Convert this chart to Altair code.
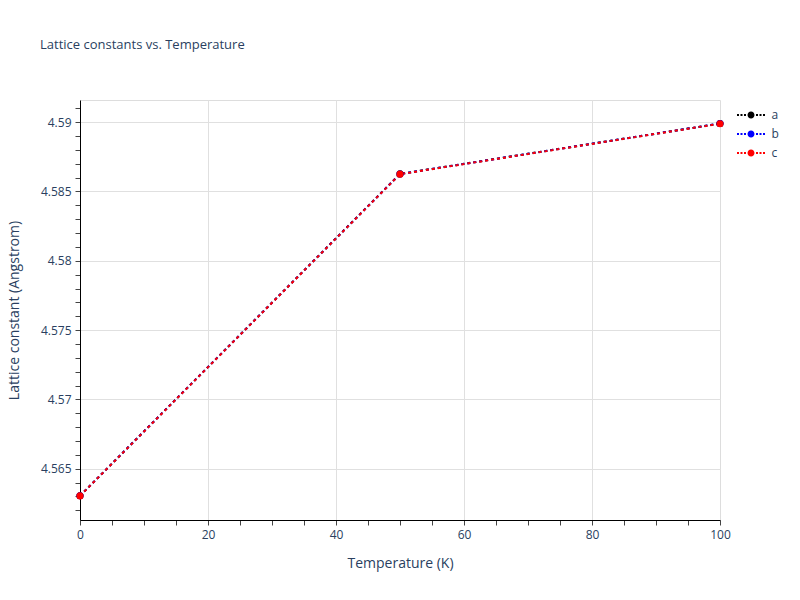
import altair as alt
import pandas as pd

temperature = [0, 50, 100]
lat_a = [4.56305, 4.58627, 4.58990]
lat_b = [4.56305, 4.58626, 4.58990]
lat_c = [4.56304, 4.58625, 4.58989]
series_names = ["a", "b", "c"]
series_colors = ["#000000", "#0000ff", "#ff0000"]

x_ticks = [0, 5, 10, 15, 20, 25, 30, 35, 40, 45, 50, 55, 60, 65, 70, 75, 80, 85, 90, 95, 100]
y_ticks = [4.562, 4.563, 4.564, 4.565, 4.566, 4.567, 4.568, 4.569, 4.570, 4.571,
           4.572, 4.573, 4.574, 4.575, 4.576, 4.577, 4.578, 4.579, 4.580, 4.581,
           4.582, 4.583, 4.584, 4.585, 4.586, 4.587, 4.588, 4.589, 4.590, 4.591]

rows = []
for name, vals in zip(series_names, [lat_a, lat_b, lat_c]):
    for t, v in zip(temperature, vals):
        rows.append({"Temperature": t, "Lattice": v, "series": name})
df = pd.DataFrame(rows)

TXT = "#2a3f5f"
FONT = "Open Sans"

xscale = alt.Scale(domain=[0, 100], nice=False, zero=False)
yscale = alt.Scale(domain=[4.5613, 4.5916], nice=False, zero=False)

x_major = "datum.value % 20 == 0"
y_major = "round(datum.value * 1000) % 5 == 0"

U = 9.5  # px per path unit (symbolSize = (2U)^2)
def sq(cx_px, h_px=1.0):
    cx, h = cx_px / U, h_px / U
    return f"M{cx - h:.3f},{-h:.3f}h{2*h:.3f}v{2*h:.3f}h{-2*h:.3f}Z"
r = 3.5 / U
legend_path = " ".join(sq(c) for c in [-13, -9.5, -6, 6, 9.5, 13]) + \
    f" M{-r:.3f},0a{r:.3f},{r:.3f} 0 1,0 {2*r:.3f},0a{r:.3f},{r:.3f} 0 1,0 {-2*r:.3f},0Z"

color = alt.Color(
    "series:N",
    scale=alt.Scale(domain=series_names, range=series_colors),
    legend=alt.Legend(
        title=None, orient="none", legendX=661.5, legendY=5.5,
        symbolType=legend_path, symbolSize=(2 * U) ** 2, symbolStrokeWidth=0,
        labelFont=FONT, labelFontSize=12, labelColor=TXT, labelOffset=11,
        rowPadding=3, padding=0,
    ),
)

x_axis = alt.Axis(
    values=x_ticks, tickCount=100, labelOverlap=False, labelFlush=False,
    title="Temperature (K)",
    labelExpr=f"{x_major} ? datum.label : ''",
    grid=True, gridColor="#e0e0e0",
    gridOpacity={"condition": {"test": f"{x_major} && datum.value > 0 && datum.value < 100", "value": 1}, "value": 0},
    domainColor="#000000", tickColor="#444444", tickSize=5,
    labelFont=FONT, labelFontSize=12, labelColor=TXT, labelPadding=4,
    titleFont=FONT, titleFontSize=14, titleColor=TXT, titleFontWeight="normal",
    titleX=320, titleY=43, titleBaseline="middle",
)
y_axis = alt.Axis(
    values=y_ticks, tickCount=100, labelOverlap=False, labelFlush=False,
    title="Lattice constant (Angstrom)",
    labelExpr=f"{y_major} ? format(datum.value, '.3~f') : ''",
    grid=True, gridColor="#e0e0e0",
    gridOpacity={"condition": {"test": y_major, "value": 1}, "value": 0},
    domainColor="#000000", tickColor="#444444", tickSize=5,
    labelFont=FONT, labelFontSize=12, labelColor=TXT, labelPadding=4,
    titleFont=FONT, titleFontSize=14, titleColor=TXT, titleFontWeight="normal",
    titleX=-66, titleY=210, titleAngle=-90, titleAlign="center", titleBaseline="middle",
)

base = alt.Chart(df)

lines = base.mark_line(strokeWidth=2, strokeDash=[3, 3], clip=False).encode(
    x=alt.X("Temperature:Q", scale=xscale, axis=x_axis),
    y=alt.Y("Lattice:Q", scale=yscale, axis=y_axis),
    color=color,
    order=alt.Order("series:N"),
)

points = base.mark_point(filled=True, size=50, opacity=1, clip=False).encode(
    x=alt.X("Temperature:Q", scale=xscale),
    y=alt.Y("Lattice:Q", scale=yscale),
    color=alt.Color("series:N", scale=alt.Scale(domain=series_names, range=series_colors),
                    legend=None),
)

chart = alt.layer(lines, points).properties(
    width=640, height=420,
    title=alt.TitleParams("Lattice constants vs. Temperature", anchor="start", frame="group",
                          dx=-40, offset=48, font=FONT, fontSize=13, fontWeight="normal",
                          color=TXT),
    autosize=alt.AutoSizeParams(type="none"),
    padding={"left": 72, "top": 92, "right": 72, "bottom": 72},
).configure_view(stroke=None).configure(background="white")

chart.save("out.html", embed_options={"renderer": "svg", "actions": False})
